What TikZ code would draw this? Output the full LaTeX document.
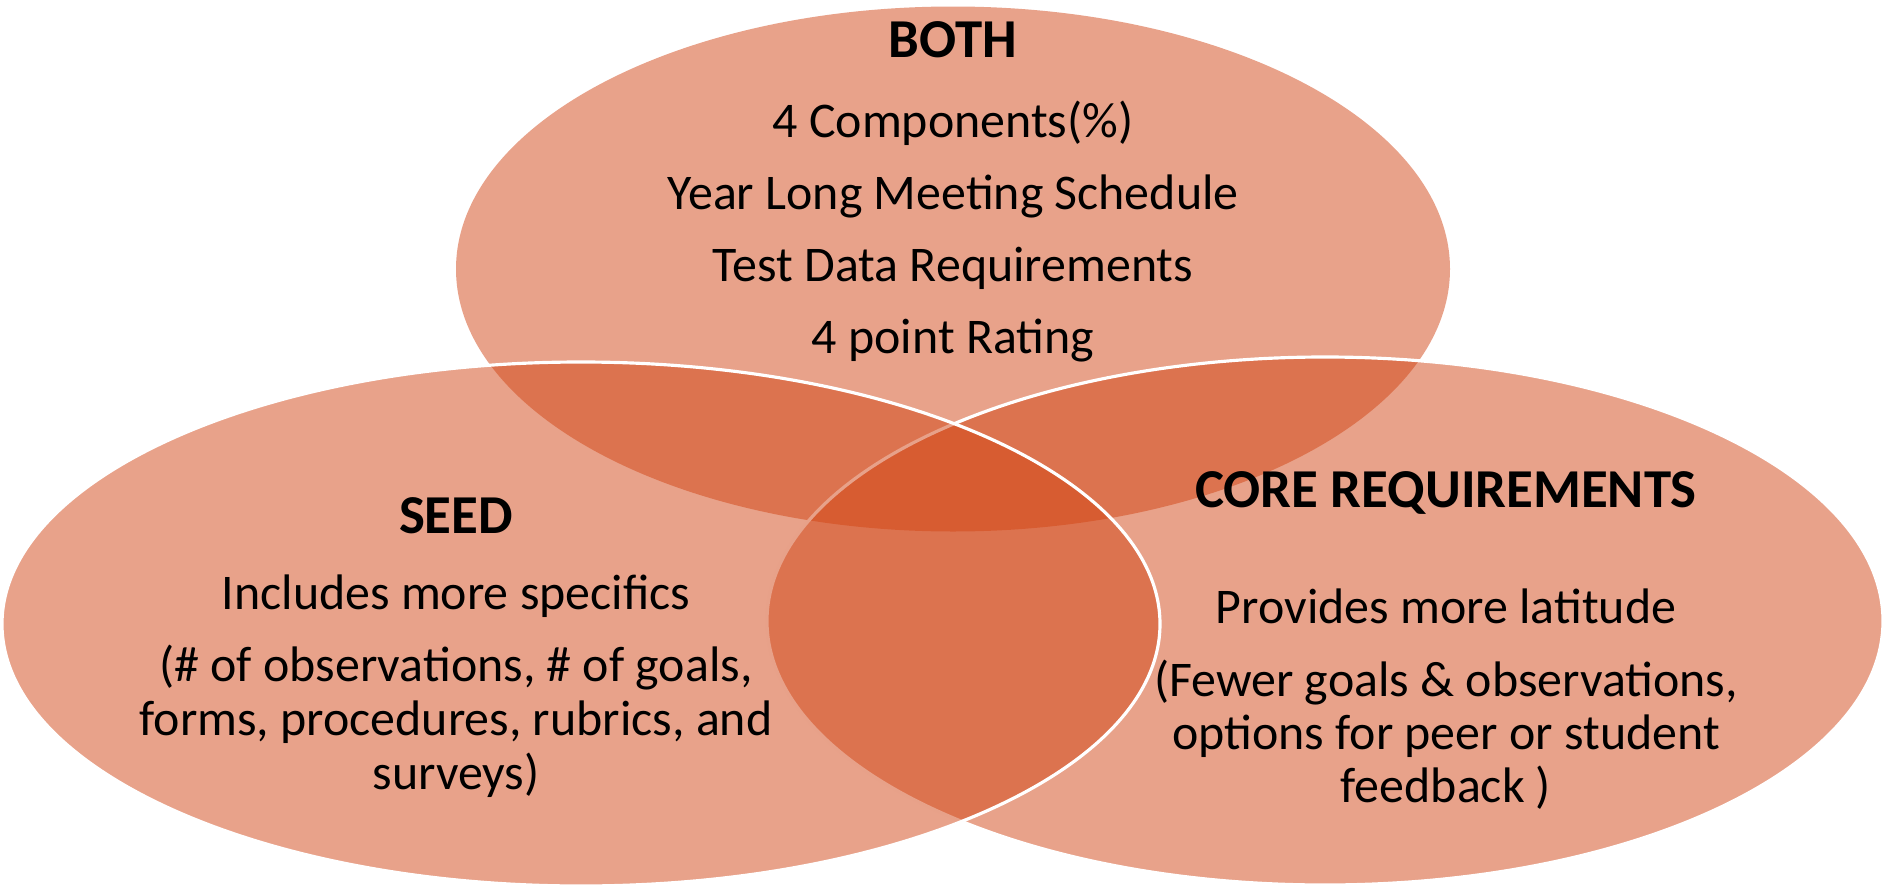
\documentclass[tikz,border=0pt]{standalone}
\usepackage{fontspec}
\setmainfont{Carlito}
\usetikzlibrary{shapes.geometric}
\definecolor{venn}{RGB}{209,69,21}

\begin{document}
\begin{tikzpicture}[node distance=0.72cm,
    set/.style={ellipse, fill=venn, fill opacity=0.5, inner sep=0pt, outer sep=0pt},
    rim/.style={draw=white, line width=0.9pt},
    txt/.style={font=\fontsize{14.2pt}{17pt}\selectfont, text height=0.40cm, text depth=0.15cm, inner sep=0pt},
    head/.style={txt, font=\fontsize{15.6pt}{18pt}\selectfont\bfseries}]
        \useasboundingbox (0,0) rectangle (18.84,8.88);

        % the three sets
        \node[set, minimum width=9.94cm, minimum height=5.25cm] (both) at (9.53,6.19) {};
        \node[set, rim, minimum width=11.16cm, minimum height=5.28cm] (core) at (13.25,2.67) {};
        \node[set, rim, minimum width=11.58cm, minimum height=5.24cm] (seed) at (5.81,2.64) {};

        % top set
        \node[head, anchor=base] (bothT) at (9.53,8.30) {BOTH};
        \node[txt, below of=bothT, node distance=0.79cm] (b1) {4 Components(\%)};
        \node[txt, below of=b1] (b2) {Year Long Meeting Schedule};
        \node[txt, below of=b2] (b3) {Test Data Requirements};
        \node[txt, below of=b3] (b4) {4 point Rating};

        % left set
        \node[head, anchor=base] (seedT) at (4.56,3.55) {SEED};
        \node[txt, below of=seedT, node distance=0.76cm] (s1) {Includes more specifics};
        \node[txt, below of=s1] (s2) {(\# of observations, \# of goals,};
        \node[txt, below of=s2, node distance=0.54cm] (s3) {forms, procedures, rubrics, and};
        \node[txt, below of=s3, node distance=0.54cm] (s4) {surveys)};

        % right set
        \node[head, anchor=base] (coreT) at (14.46,3.81) {CORE REQUIREMENTS};
        \node[txt, below of=coreT, node distance=1.16cm] (c1) {Provides more latitude};
        \node[txt, below of=c1, node distance=0.73cm] (c2) {(Fewer goals \& observations,};
        \node[txt, below of=c2, node distance=0.53cm] (c3) {options for peer or student};
        \node[txt, below of=c3, node distance=0.53cm] (c4) {feedback )};
\end{tikzpicture}
\end{document}
